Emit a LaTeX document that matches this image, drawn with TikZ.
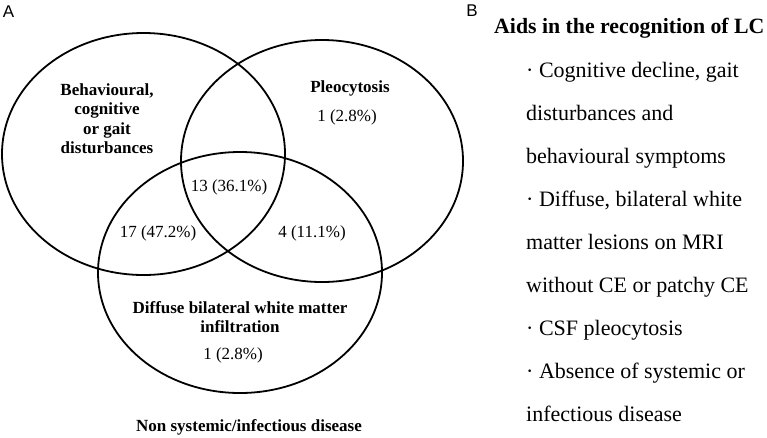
\documentclass[tikz,border=0pt]{standalone}
\usepackage{fontspec}
\setmainfont{Liberation Serif}
\newfontfamily\panelfont{Liberation Sans}
\usetikzlibrary{positioning,calc}

\begin{document}
\begin{tikzpicture}[x=1pt,y=-1pt]
  \useasboundingbox (0,0) rectangle (767,437);
  \coordinate(behav) at (143.5,154);
  \coordinate(pleo) at (322,161);
  \coordinate(white) at (240,272.5);
  \begin{scope}[
    every path/.style={draw,line width=1.8pt},
    ]
    \path (behav) ellipse [x radius=141.5pt, y radius=121pt];
    \path (pleo)  ellipse [x radius=141pt,   y radius=121pt];
    \path (white) ellipse [x radius=142pt,   y radius=120.5pt];
  \end{scope}
  \begin{scope}[
    every node/.style={
      align=center,
      anchor=center,
      inner sep=0pt,
      font=\fontsize{17}{19.5}\selectfont,
    },
    title/.style={font=\fontsize{17}{19.5}\selectfont\bfseries},
    ]
    \node[title] (behav-label) at (107,118.5) {Behavioural,\\cognitive\\or gait\\disturbances};
    \node[title] (pleo-label)  at (350,88)    {Pleocytosis};
    \node[title] (white-label) at (240,317)   {Diffuse bilateral white matter\\infiltration};
    \node[title] (none-label)  at (249,427)   {Non systemic/infectious disease};
    \node (pleo-only)  at (347,117) {1 (2.8\%)};
    \node (all-three)  at (229,187) {13 (36.1\%)};
    \node (behav-white) at (158,233) {17 (47.2\%)};
    \node (pleo-white) at (312,233) {4 (11.1\%)};
    \node (white-only) at (233,355) {1 (2.8\%)};
  \end{scope}
  \begin{scope}[
    every node/.style={
      anchor=base west,
      inner sep=0pt,
      font=\fontsize{22}{26}\selectfont,
    },
    ]
    \node[font=\fontsize{21.8}{26}\selectfont\bfseries] (aids) at (494,33) {Aids in the recognition of LC};
    \path[draw=none] (526,77) node(cognitive){·~Cognitive decline, gait}
    ++(0,43.1) node(disturb){disturbances and}
    ++(0,43.1) node(behaviour){behavioural symptoms}
    ++(0,43.1) node(diffuse){·~Diffuse, bilateral white}
    ++(0,43.1) node(lesions){matter lesions on MRI}
    ++(0,43.1) node(without){without CE or patchy CE}
    ++(0,43.1) node(csf){·~CSF pleocytosis}
    ++(0,43.1) node(absence){·~Absence of systemic or}
    ++(0,43.1) node(infect){infectious disease};
  \end{scope}
  \node[font=\panelfont\fontsize{17}{20}\selectfont,inner sep=0pt] (panel-a) at (8.5,12) {A};
  \node[font=\panelfont\fontsize{17}{20}\selectfont,inner sep=0pt] (panel-b) at (472,11) {B};
\end{tikzpicture}
\end{document}
